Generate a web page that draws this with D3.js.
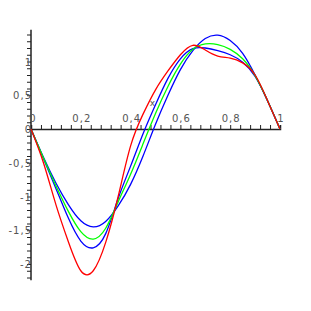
<!DOCTYPE html>
<html>
<head>
<meta charset="utf-8">
<script src="https://cdn.jsdelivr.net/npm/d3@7"></script>
<style>
  body { margin: 0; background: #fff; }
  text { font-family: "DejaVu Sans", sans-serif; font-size: 10px; fill: #555; letter-spacing: 1px; }
</style>
</head>
<body>
<div id="chart"></div>
<script>
// sample positions along x
var xs = [0, 0.05, 0.1, 0.15, 0.2, 0.25, 0.3, 0.35, 0.4, 0.45, 0.5,
          0.55, 0.6, 0.65, 0.7, 0.75, 0.8, 0.85, 0.9, 0.95, 1];

// curves
var redVals   = [0, -0.50, -1.12, -1.67, -2.10, -2.10, -1.68, -1.00, -0.25, 0.22, 0.58,
                 0.86, 1.10, 1.24, 1.17, 1.08, 1.05, 0.98, 0.80, 0.42, 0];
var blue1Vals = [0, -0.44, -0.88, -1.32, -1.66, -1.76, -1.55, -1.03, -0.55, -0.07, 0.36,
                 0.75, 1.04, 1.19, 1.20, 1.16, 1.10, 0.99, 0.78, 0.42, 0];
var greenVals = [0, -0.43, -0.84, -1.22, -1.52, -1.63, -1.47, -1.08, -0.67, -0.22, 0.23,
                 0.63, 0.96, 1.18, 1.26, 1.25, 1.18, 1.04, 0.79, 0.42, 0];
var blue2Vals = [0, -0.42, -0.80, -1.12, -1.36, -1.45, -1.37, -1.14, -0.82, -0.40, 0.07,
                 0.50, 0.88, 1.16, 1.34, 1.39, 1.31, 1.12, 0.80, 0.42, 0];

var xTickLabels = [0, 0.2, 0.4, 0.6, 0.8, 1];
var yTickLabels = [1, 0.5, 0, -0.5, -1, -1.5, -2];

var w = 311, h = 311;

var x = d3.scaleLinear().domain([0, 1]).range([31, 280]);
var y = d3.scaleLinear().domain([0, 1]).range([129, 61.5]);

var fmt = function(v) { return String(v).replace('.', ','); };

var svg = d3.select('#chart')
            .append('svg')
            .attr('width', w)
            .attr('height', h);

// x axis: minor ticks every 0.04, pointing up
var xAxis = d3.axisTop(x)
    .tickValues(d3.range(0, 1.0001, 0.04))
    .tickSize(4)
    .tickFormat('');
svg.append('g')
    .attr('transform', 'translate(0,' + y(0) + ')')
    .call(xAxis)
    .call(function(g) {
      g.select('.domain').attr('stroke', '#222').attr('stroke-width', 1.5);
      g.selectAll('.tick line').attr('stroke', '#222');
    });

// y axis: minor ticks every 0.1, pointing left
var yAxis = d3.axisLeft(y)
    .tickValues(d3.range(-22, 15).map(function(i) { return i / 10; }))
    .tickSize(4)
    .tickSizeOuter(0)
    .tickFormat('');
svg.append('g')
    .attr('transform', 'translate(' + x(0) + ',0)')
    .call(yAxis)
    .call(function(g) {
      g.select('.domain').attr('stroke', '#222').attr('stroke-width', 1.5)
        .attr('d', 'M0,' + y(1.47) + 'V' + y(-2.24));
      g.selectAll('.tick line').attr('stroke', '#222');
    });

// tick labels
svg.selectAll('.xlab')
    .data(xTickLabels)
  .enter()
  .append('text')
    .attr('class', 'xlab')
    .attr('x', function(d) { return d === 0 ? x(d) + 2 : x(d) + 1; })
    .attr('y', y(0) - 7)
    .attr('text-anchor', 'middle')
    .text(fmt);

svg.selectAll('.ylab')
    .data(yTickLabels)
  .enter()
  .append('text')
    .attr('class', 'ylab')
    .attr('x', x(0) + 1)
    .attr('y', function(d) { return y(d) + 4; })
    .attr('text-anchor', 'end')
    .text(fmt);

// axis name
svg.append('text')
    .attr('x', x(0.49))
    .attr('y', y(0.34))
    .attr('text-anchor', 'middle')
    .style('font-size', '9px')
    .text('x');

var line = d3.line()
    .x(function(d) { return x(d[0]); })
    .y(function(d) { return y(d[1]); })
    .curve(d3.curveNatural);

var series = [
  { vals: blue2Vals, color: '#0000ff' },
  { vals: blue1Vals, color: '#0000ff' },
  { vals: greenVals, color: '#00ff00' },
  { vals: redVals,   color: '#ff0000' }
];

svg.selectAll('.curve')
    .data(series)
  .enter()
  .append('path')
    .attr('class', 'curve')
    .attr('fill', 'none')
    .attr('stroke', function(d) { return d.color; })
    .attr('stroke-width', 1.3)
    .attr('d', function(d) { return line(xs.map(function(v, i) { return [v, d.vals[i]]; })); });
</script>
</body>
</html>
